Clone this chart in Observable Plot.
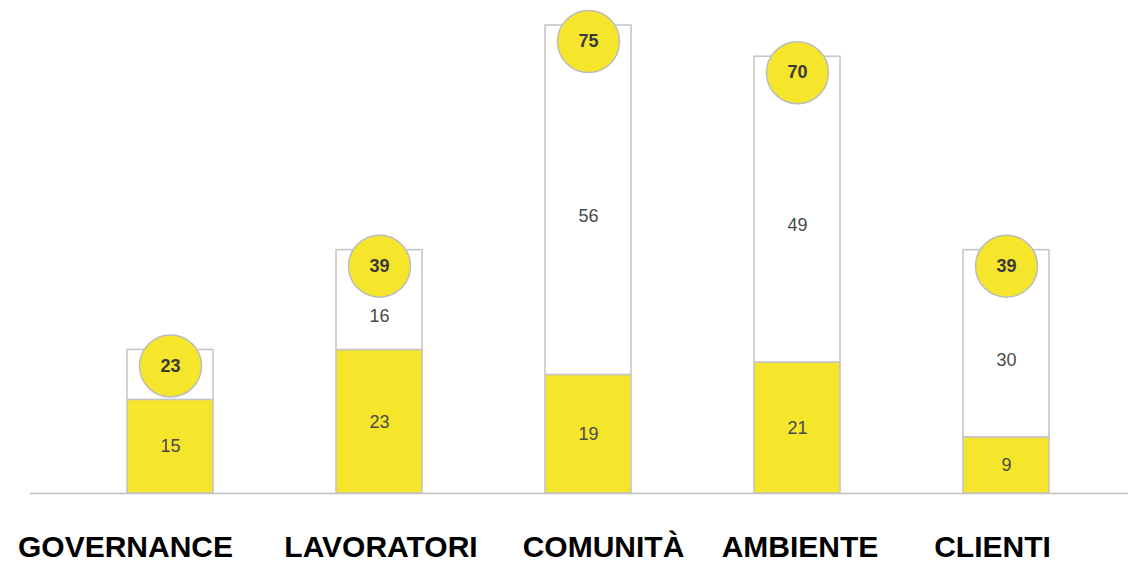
<!DOCTYPE html>
<html>
<head>
<meta charset="utf-8">
<script src="https://cdn.jsdelivr.net/npm/d3@7"></script>
<script src="https://cdn.jsdelivr.net/npm/@observablehq/plot@0.6"></script>
<style>
  html, body { margin: 0; padding: 0; background: #fff; }
  #chart { width: 1128px; height: 565px; }
</style>
</head>
<body>
<div id="chart"></div>
<script>
const categories = ["GOVERNANCE", "LAVORATORI", "COMUNITÀ", "AMBIENTE", "CLIENTI"];
const baseValues = [15, 23, 19, 21, 9];      // yellow segment
const upperValues = [8, 16, 56, 49, 30];     // white segment
const totals = [23, 39, 75, 70, 39];         // circle

const segments = [];
categories.forEach((c, i) => {
  segments.push({cat: c, part: "base", y1: 0, y2: baseValues[i], v: baseValues[i]});
  segments.push({cat: c, part: "upper", y1: baseValues[i], y2: baseValues[i] + upperValues[i], v: upperValues[i]});
});
const totalRows = categories.map((c, i) => ({cat: c, total: totals[i], base: baseValues[i]}));
const labelOffsets = [-45, 1.5, 15, 2.5, -14];

const YELLOW = "#f5e62b";
const font = "'Liberation Sans', Arial, Helvetica, sans-serif";

const chart = Plot.plot({
  width: 1128,
  height: 565,
  marginTop: 25,
  marginBottom: 72,
  marginLeft: 30,
  marginRight: 0,
  style: {fontFamily: font, background: "#fff"},
  x: {domain: categories, range: [64, 1112], paddingInner: 0.59, paddingOuter: 0.295, axis: null},
  y: {domain: [0, 75], axis: null},
  marks: [
    Plot.ruleY([0], {stroke: "#c0c0c0", strokeWidth: 1.5}),
    Plot.rectY(segments, {
      x: "cat", y1: "y1", y2: "y2",
      fill: d => d.part === "base" ? YELLOW : "#ffffff",
      stroke: "#c4c4c4", strokeWidth: 1.5
    }),
    Plot.text(segments.filter(d => d.part === "base"), {
      x: "cat", y: d => (d.y1 + d.y2) / 2, text: d => String(d.v),
      fill: "#4a4a4a", fontSize: 18
    }),
    Plot.text(segments.filter(d => d.part === "upper"), {
      x: "cat", y: d => (d.y1 + d.y2) / 2, text: d => String(d.v),
      fill: "#4a4a4a", fontSize: 18, dy: 16
    }),
    Plot.dot(totalRows, {
      x: "cat", y: "total", r: 31, dy: 16,
      fill: YELLOW, stroke: "#bdbdbd", strokeWidth: 1.5
    }),
    Plot.text(totalRows, {
      x: "cat", y: "total", text: d => String(d.total), dy: 16,
      fill: "#3a3a3a", fontSize: 18, fontWeight: "bold"
    }),
    ...categories.map((c, i) => Plot.text([c], {
      x: d => d, y: () => 0, text: d => d, dy: 54, dx: labelOffsets[i],
      fill: "#000", fontSize: 30, fontWeight: "bold", lineAnchor: "middle"
    }))
  ]
});
document.getElementById("chart").appendChild(chart);
</script>
</body>
</html>
